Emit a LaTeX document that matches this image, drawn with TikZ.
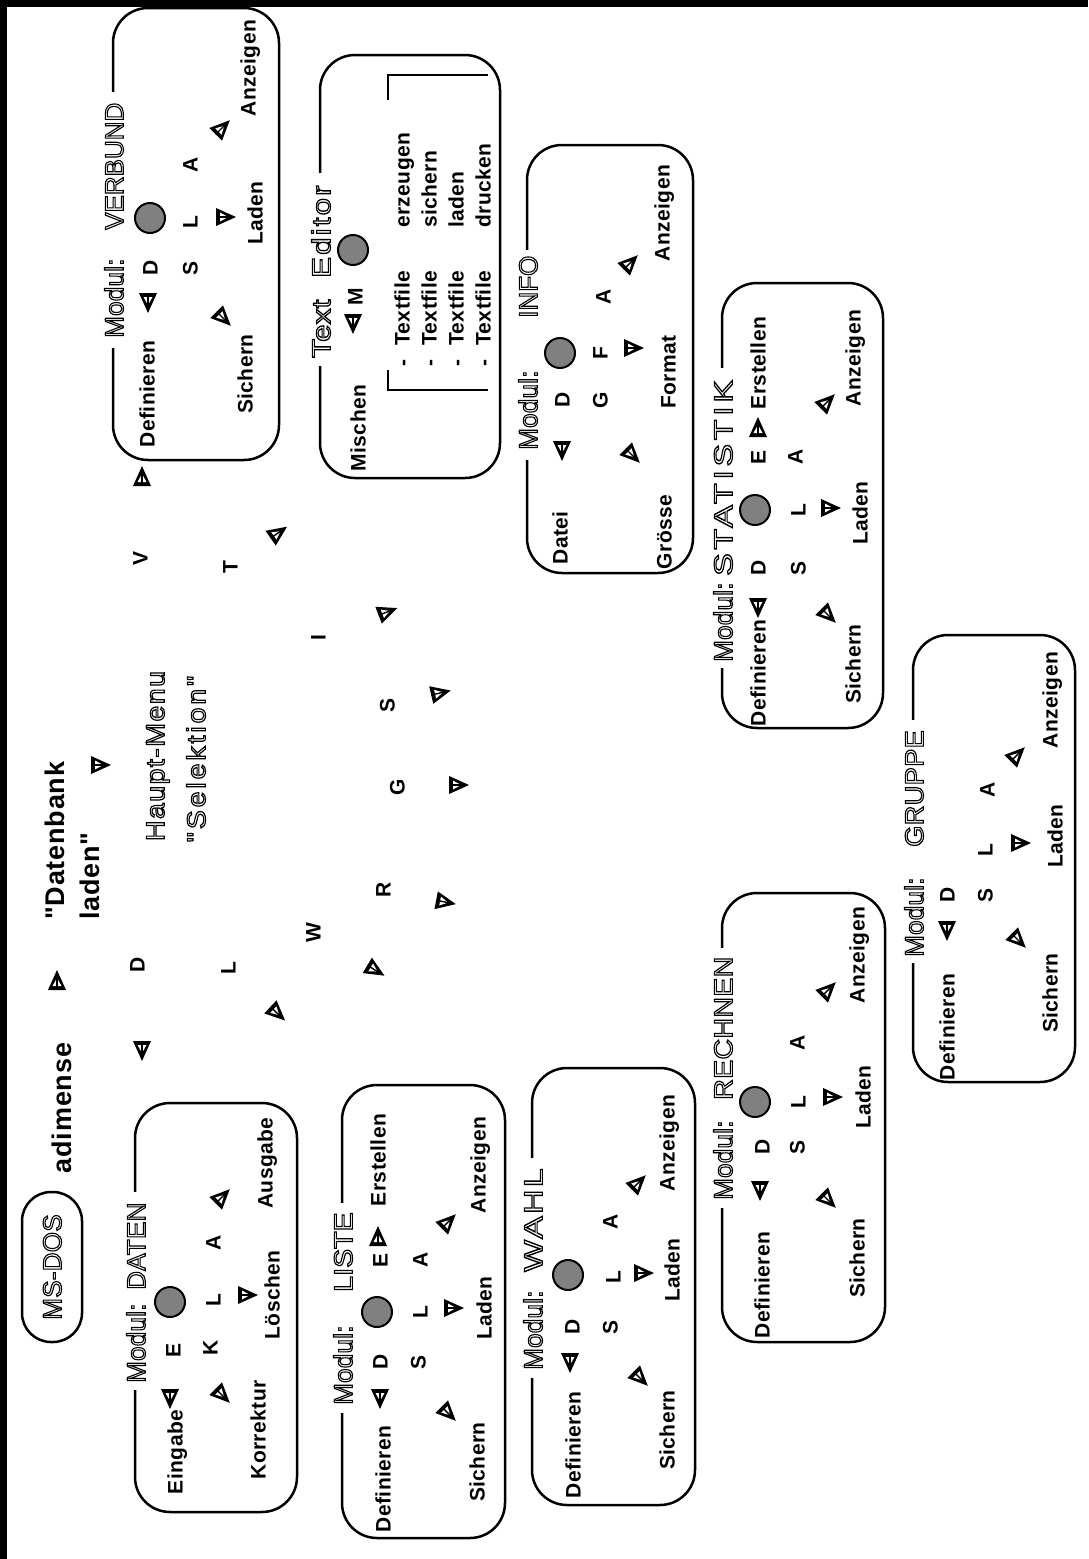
\documentclass[tikz,border=0pt]{standalone}
\usepackage{fontspec}
\usepackage{graphicx}
\setmainfont{Liberation Sans}
\newfontfamily\bfw{Liberation Sans}[LetterSpace=2]
\newfontfamily\bfbig{Liberation Sans}[LetterSpace=3]
\newfontfamily\olf{Liberation Sans}[LetterSpace=1]
\newcommand\outl[1]{\special{pdf:literal direct 1 Tr 1.1 w}#1\special{pdf:literal direct 0 Tr}}
\newcommand\lsp[1]{\addfontfeatures{LetterSpace=#1}}
\definecolor{knobgray}{RGB}{128,128,128}
\tikzset{
  wd/.style={font=\fontsize{21}{24}\bfw\bfseries, rotate=90, inner sep=0pt, text height=15pt, text depth=0pt},
  ol/.style={font=\fontsize{26}{31}\olf, rotate=90, inner sep=0pt, text height=18.6pt, text depth=0pt},
  big/.style={font=\fontsize{27}{32}\bfbig\bfseries, rotate=90, inner sep=0pt, text height=19.3pt, text depth=0pt},
  modbox/.style={draw, line width=2.5pt, rounded corners=35pt},
  knob/.style={circle, draw, line width=2pt, fill=knobgray, minimum size=30pt, inner sep=0pt},
  gapline/.style={white, line width=8pt},
  arr/.pic={
    \fill[line join=round] (11pt,0pt) -- (-9pt,9pt) -- (-9pt,-9pt) -- cycle;
    \fill[white] (3pt,0pt) -- (-5pt,4.5pt) -- (-5pt,-4.5pt) -- cycle;
    \draw[line width=1.4pt] (-9pt,0pt) -- (6pt,0pt);
  }
}
\newcommand\wlab[4]{\node[wd] (#1) at (#2,#3) {#4};}
\newcommand\warr[3]{\pic[rotate=#3] at (#1,#2) {arr};}
\newcommand\wknob[3]{\node[knob] (#1) at (#2,#3) {};}
% prefix, x, modul start, name start, xscale, letterspace, name, gap from, gap to
\newcommand\modlabel[9]{%
  \draw[gapline] (#2,#8) -- (#2,#9);
  \node[ol, anchor=west] (#1m) at (#2+1,#3) {\outl{Modul:}};
  \node[ol, anchor=west] (#1n) at (#2+1,#4) {\scalebox{#5}[1]{\lsp{#6}\outl{#7}}};
}
\begin{document}
\begin{tikzpicture}[x=1pt,y=-1pt]
\useasboundingbox (0,0) rectangle (1088,1559);
\draw[line width=7pt] (3.5,1559) -- (3.5,3.5) -- (1088,3.5);

% ---------- VERBUND
\draw[modbox] (113,8) rectangle (279,460);
\modlabel{v}{113}{338}{230}{1}{0}{VERBUND}{92}{348}
\wlab{vDef}{147}{394}{Definieren}
\warr{148}{302}{270}
\wlab{vD}{150}{268}{D}
\wknob{vK}{150}{218}
\wlab{vS}{190}{268}{S}
\wlab{vL}{190}{222}{L}
\wlab{vA}{190}{165}{A}
\warr{223}{318}{315}
\warr{225}{217}{0}
\warr{222}{128}{45}
\wlab{vSi}{245}{374}{Sichern}
\wlab{vLa}{255}{213}{Laden}
\wlab{vAn}{248}{68}{Anzeigen}

% ---------- Text Editor
\draw[modbox] (320,55) rectangle (500,478);
\draw[gapline] (320,173) -- (320,366);
\node[ol, anchor=west] (eT) at (321,358) {\scalebox{1.2}[1]{\outl{Text}}};
\node[ol, anchor=west] (eE) at (321,278) {\scalebox{1.2}[1]{\lsp{7}\outl{Editor}}};
\wlab{eMi}{358}{428}{Mischen}
\warr{353}{323}{270}
\wlab{eM}{355}{297}{M}
\wknob{eK}{353}{250}
\draw[line width=2pt] (388,370) -- (388,390) -- (488,390);
\draw[line width=2pt] (388,100) -- (388,75) -- (488,75);
\wlab{e1a}{402}{363}{-}
\node[wd,anchor=west] (e1b) at (402,346) {Textfile};
\node[wd,anchor=west] (e1c) at (402,228) {erzeugen};
\wlab{e2a}{429}{363}{-}
\node[wd,anchor=west] (e2b) at (429,346) {Textfile};
\node[wd,anchor=west] (e2c) at (429,228) {sichern};
\wlab{e3a}{456}{363}{-}
\node[wd,anchor=west] (e3b) at (456,346) {Textfile};
\node[wd,anchor=west] (e3c) at (456,228) {laden};
\wlab{e4a}{483}{363}{-}
\node[wd,anchor=west] (e4b) at (483,346) {Textfile};
\node[wd,anchor=west] (e4c) at (483,228) {drucken};

% ---------- INFO
\draw[modbox] (527,145) rectangle (693,573);
\modlabel{i}{527}{450}{318}{1}{0}{INFO}{250}{460}
\wlab{iDa}{560}{538}{Datei}
\warr{562}{450}{270}
\wlab{iD}{562}{400}{D}
\wknob{iK}{560}{353}
\wlab{iG}{600}{400}{G}
\wlab{iF}{600}{353}{F}
\wlab{iA}{603}{297}{A}
\warr{632}{455}{315}
\warr{633}{348}{0}
\warr{630}{263}{45}
\wlab{iGr}{664}{532}{Grösse}
\wlab{iFo}{668}{372}{Format}
\wlab{iAn}{662}{213}{Anzeigen}

% ---------- STATISTIK
\draw[modbox] (722,283) rectangle (883,728);
\modlabel{s}{722}{662}{576}{1.3}{11}{STATISTIK}{368}{668}
\wlab{sDef}{758}{673}{Definieren}
\warr{758}{607}{270}
\wlab{sD}{758}{568}{D}
\wknob{sK}{755}{510}
\wlab{sE}{758}{457}{E}
\warr{758}{428}{90}
\wlab{sEr}{758}{363}{Erstellen}
\wlab{sS}{798}{568}{S}
\wlab{sL}{798}{510}{L}
\wlab{sA}{795}{457}{A}
\warr{828}{615}{315}
\warr{830}{508}{0}
\warr{827}{402}{45}
\wlab{sSi}{853}{664}{Sichern}
\wlab{sLa}{860}{513}{Laden}
\wlab{sAn}{853}{358}{Anzeigen}

% ---------- GRUPPE
\draw[modbox] (913,635) rectangle (1075,1082);
\modlabel{g}{913}{957}{847}{1.05}{1}{GRUPPE}{720}{963}
\wlab{gDef}{947}{1027}{Definieren}
\warr{947}{930}{270}
\wlab{gD}{947}{895}{D}
\wlab{gS}{985}{895}{S}
\wlab{gL}{985}{850}{L}
\wlab{gA}{987}{790}{A}
\warr{1018}{940}{315}
\warr{1020}{843}{0}
\warr{1017}{755}{45}
\wlab{gSi}{1050}{993}{Sichern}
\wlab{gLa}{1055}{836}{Laden}
\wlab{gAn}{1050}{700}{Anzeigen}

% ---------- RECHNEN
\draw[modbox] (722,893) rectangle (885,1342);
\modlabel{r}{722}{1200}{1100}{1.1}{1}{RECHNEN}{948}{1208}
\wlab{rDef}{762}{1285}{Definieren}
\warr{760}{1190}{270}
\wlab{rD}{762}{1147}{D}
\wknob{rK}{755}{1102}
\wlab{rS}{797}{1147}{S}
\wlab{rL}{798}{1102}{L}
\wlab{rA}{797}{1043}{A}
\warr{828}{1200}{315}
\warr{832}{1097}{0}
\warr{828}{990}{45}
\wlab{rSi}{857}{1258}{Sichern}
\wlab{rLa}{863}{1097}{Laden}
\wlab{rAn}{857}{955}{Anzeigen}

% ---------- WAHL
\draw[modbox] (532,1068) rectangle (695,1505);
\modlabel{w}{532}{1370}{1272}{1.3}{7}{WAHL}{1158}{1378}
\wlab{wDef}{573}{1445}{Definieren}
\warr{570}{1362}{270}
\wlab{wD}{572}{1327}{D}
\wknob{wK}{568}{1275}
\wlab{wS}{610}{1327}{S}
\wlab{wL}{613}{1277}{L}
\wlab{wA}{610}{1222}{A}
\warr{640}{1378}{315}
\warr{643}{1273}{0}
\warr{638}{1183}{45}
\wlab{wSi}{667}{1430}{Sichern}
\wlab{wLa}{672}{1270}{Laden}
\wlab{wAn}{667}{1143}{Anzeigen}

% ---------- LISTE
\draw[modbox] (342,1085) rectangle (505,1538);
\modlabel{l}{342}{1405}{1292}{1.1}{0}{LISTE}{1203}{1413}
\wlab{lDef}{383}{1479}{Definieren}
\warr{380}{1398}{270}
\wlab{lD}{380}{1362}{D}
\wknob{lK}{377}{1312}
\wlab{lE}{380}{1260}{E}
\warr{378}{1237}{90}
\wlab{lEr}{378}{1160}{Erstellen}
\wlab{lS}{418}{1362}{S}
\wlab{lL}{420}{1312}{L}
\wlab{lA}{420}{1260}{A}
\warr{448}{1413}{315}
\warr{453}{1308}{0}
\warr{448}{1222}{45}
\wlab{lSi}{477}{1462}{Sichern}
\wlab{lLa}{484}{1308}{Laden}
\wlab{lAn}{478}{1165}{Anzeigen}

% ---------- DATEN
\draw[modbox] (135,1103) rectangle (297,1512);
\modlabel{d}{135}{1383}{1290}{1}{1}{DATEN}{1192}{1390}
\wlab{dEi}{175}{1452}{Eingabe}
\warr{170}{1398}{270}
\wlab{dE}{173}{1350}{E}
\wknob{dKn}{170}{1302}
\wlab{dK}{210}{1348}{K}
\wlab{dL}{213}{1300}{L}
\wlab{dA}{213}{1243}{A}
\warr{222}{1395}{315}
\warr{247}{1295}{0}
\warr{222}{1197}{45}
\wlab{dKo}{258}{1430}{Korrektur}
\wlab{dLo}{272}{1295}{Löschen}
\wlab{dAu}{265}{1163}{Ausgabe}

% ---------- MS-DOS, adimense, Datenbank
\draw[line width=2.5pt, rounded corners=29pt] (22,1192) rectangle (82,1342);
\node[ol] (ms) at (52,1267) {\outl{MS-DOS}};
\node[big] (ad) at (62,1108) {adimense};
\warr{57}{981}{90}
\node[big, anchor=west] (db1) at (55,920) {"Datenbank};
\node[big, anchor=west] (db2) at (90,920) {laden"};
\warr{100}{765}{0}

% ---------- Haupt-Menu
\node[ol] (hm) at (155,756) {\scalebox{1.1}[1]{\lsp{5}\outl{Haupt-Menu}}};
\node[ol] (hs) at (196,759) {\scalebox{1.1}[1]{\lsp{10}\outl{"Selektion"}}};
\wlab{mV}{140}{558}{V}
\warr{142}{477}{90}
\wlab{mT}{230}{567}{T}
\warr{278}{533}{35}
\wlab{mI}{318}{638}{I}
\warr{387}{612}{21}
\wlab{mS}{387}{705}{S}
\warr{440}{693}{13}
\wlab{mG}{397}{787}{G}
\warr{458}{785}{0}
\wlab{mR}{383}{890}{R}
\warr{445}{902}{-11}
\wlab{mW}{313}{933}{W}
\warr{375}{970}{-31}
\wlab{mL}{228}{968}{L}
\warr{277}{1013}{-43}
\wlab{mD}{137}{965}{D}
\warr{142}{1050}{270}
\end{tikzpicture}
\end{document}
